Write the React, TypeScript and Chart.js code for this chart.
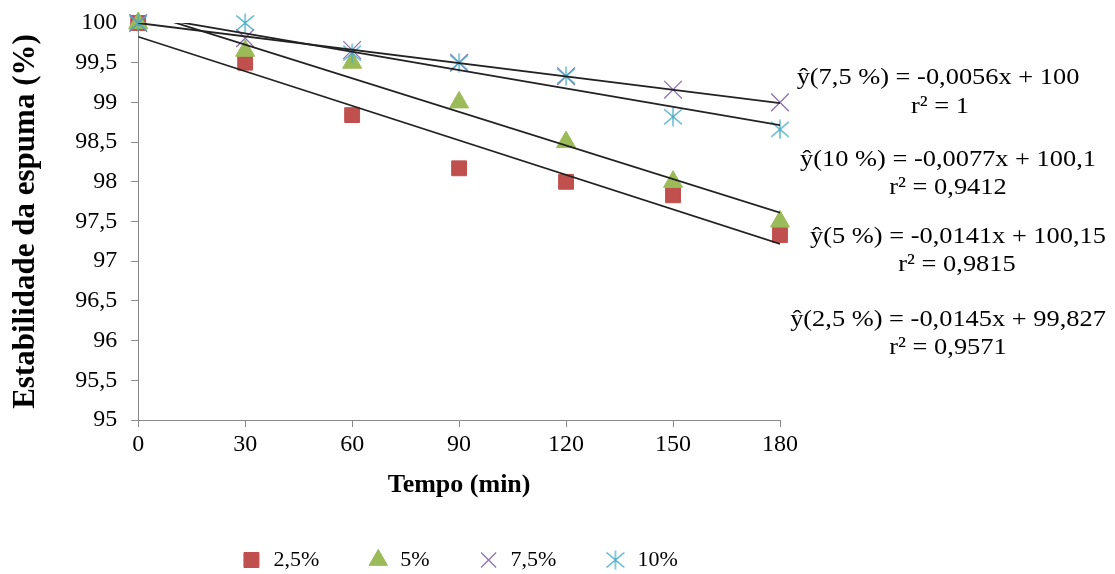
import React, { useEffect, useRef } from 'react';
import { Chart, registerables } from 'chart.js';

Chart.register(...registerables);

// ---------- data ----------
const times = [0, 30, 60, 90, 120, 150, 180];
const series25 = [100, 99.5, 98.84, 98.17, 98.0, 97.83, 97.33];
const series5 = [100, 99.65, 99.5, 99.0, 98.5, 98.0, 97.5];
const series75 = [100, 99.81, 99.66, 99.5, 99.33, 99.16, 99.0];
const series10 = [100, 100, 99.62, 99.5, 99.33, 98.82, 98.66];
const seriesLabels = ['2,5%', '5%', '7,5%', '10%'];

// regression equations shown on the chart (2,5 / 5 / 7,5 / 10 %)
const trendSlopes = [-0.0145, -0.0141, -0.0056, -0.0077];
const trendIntercepts = [99.827, 100.15, 100, 100.1];

const equationTexts = [
  'ŷ(7,5 %) = -0,0056x + 100',
  'r² = 1',
  'ŷ(10 %) = -0,0077x + 100,1',
  'r² = 0,9412',
  'ŷ(5 %) = -0,0141x + 100,15',
  'r² = 0,9815',
  'ŷ(2,5 %) = -0,0145x + 99,827',
  'r² = 0,9571',
];

const xTitle = 'Tempo (min)';
const yTitle = 'Estabilidade da espuma (%)';

// ---------- styling ----------
const FONT = "'Liberation Serif', 'Times New Roman', serif";
const AXIS_COLOR = '#898989';
const COLORS = ['#C0504D', '#9BBB59', '#8C73B0', '#4BACC6'];
const EQ_POS: [number, number][] = [
  [938, 78], [940, 107],
  [948, 160], [948, 188],
  [958, 237], [957, 265],
  [948, 320], [948, 348],
];

function makeAsterisk(color: string, size: number, lw: number) {
  const c = document.createElement('canvas');
  c.width = size;
  c.height = size;
  const ctx = c.getContext('2d')!;
  ctx.strokeStyle = color;
  ctx.lineWidth = lw;
  const m = size / 2;
  const r = size / 2 - 0.5;
  ctx.beginPath();
  ctx.moveTo(m, m - r);
  ctx.lineTo(m, m + r);
  const dx = r * 0.93;
  const dy = r * 0.8;
  ctx.moveTo(m - dx, m - dy);
  ctx.lineTo(m + dx, m + dy);
  ctx.moveTo(m + dx, m - dy);
  ctx.lineTo(m - dx, m + dy);
  ctx.stroke();
  return c;
}

const equationPlugin = {
  id: 'equationTexts',
  afterDraw(chart: any) {
    const ctx = chart.ctx;
    ctx.save();
    ctx.font = `24px ${FONT}`;
    ctx.fillStyle = '#000';
    ctx.textAlign = 'center';
    ctx.textBaseline = 'middle';
    equationTexts.forEach((t, i) => {
      const [x, y] = EQ_POS[i];
      ctx.save();
      ctx.translate(x, y);
      ctx.scale(1.1, 1);
      ctx.fillText(t, 0, 0);
      ctx.restore();
    });
    ctx.restore();
  },
};

export default function App() {
  const canvasRef = useRef<HTMLCanvasElement | null>(null);

  useEffect(() => {
    let chart: Chart | null = null;
    let cancelled = false;
    const fonts: any = (document as any).fonts;
    const ready: Promise<any> = fonts
      ? Promise.all([
          fonts.load('22px "Liberation Serif"'),
          fonts.load('bold 22px "Liberation Serif"'),
        ]).catch(() => null)
      : Promise.resolve(null);

    ready.then(() => {
      if (cancelled || !canvasRef.current) return;
      const asterisk = makeAsterisk(COLORS[3], 20, 1.3);
      const allSeries = [series25, series5, series75, series10];
      const styles: any[] = ['rect', 'triangle', 'crossRot', asterisk];
      const radii = [10.5, 11, 12.5, 10];

      const scatterSets = allSeries.map((s, i) => ({
        type: 'scatter' as const,
        label: seriesLabels[i],
        data: times.map((t, j) => ({ x: t, y: s[j] })),
        pointStyle: styles[i],
        pointRadius: radii[i],
        pointHoverRadius: radii[i],
        backgroundColor: COLORS[i],
        borderColor: COLORS[i],
        borderWidth: i >= 2 ? 1.3 : 1,
        showLine: false,
        clip: false as any,
        order: 4 - i,
      }));

      const trendSets = trendSlopes.map((m, i) => ({
        type: 'line' as const,
        label: 'trend ' + seriesLabels[i],
        data: [times[0], times[times.length - 1]].map((t) => ({ x: t, y: trendIntercepts[i] + m * t })),
        borderColor: '#222222',
        borderWidth: 1.8,
        pointRadius: 0,
        fill: false,
        order: 0,
      }));

      chart = new Chart(canvasRef.current, {
        type: 'scatter',
        data: { datasets: [...scatterSets, ...trendSets] as any },
        plugins: [equationPlugin],
        options: {
          animation: false,
          responsive: true,
          maintainAspectRatio: false,
          layout: { padding: { left: 0, right: 335, top: 23, bottom: 0 } },
          plugins: {
            tooltip: { enabled: false },
            legend: {
              position: 'bottom',
              fullSize: false,
              labels: {
                usePointStyle: true,
                boxHeight: 15,
                padding: 48,
                color: '#000',
                font: { family: FONT, size: 22 },
                filter: (item: any) => item.datasetIndex < 4,
                sort: (a: any, b: any) => a.datasetIndex - b.datasetIndex,
              },
            },
          },
          scales: {
            x: {
              type: 'linear',
              min: 0,
              max: 180,
              ticks: {
                stepSize: 30,
                color: '#000',
                padding: 3,
                font: { family: FONT, size: 24 },
              },
              grid: { drawOnChartArea: false, drawTicks: true, tickLength: 7, color: AXIS_COLOR },
              border: { display: true, color: AXIS_COLOR, width: 1 },
              title: {
                display: true,
                text: xTitle,
                color: '#000',
                font: { family: FONT, size: 26, weight: 'bold' },
                padding: { top: 8, bottom: 0 },
              },
            },
            y: {
              type: 'linear',
              min: 95,
              max: 100,
              ticks: {
                stepSize: 0.5,
                color: '#000',
                padding: 14,
                font: { family: FONT, size: 24, lineHeight: 0.6 },
                callback: (v: any) => String(v).replace('.', ','),
              },
              grid: { drawOnChartArea: false, drawTicks: true, tickLength: 7, color: AXIS_COLOR },
              border: { display: true, color: AXIS_COLOR, width: 1 },
              title: {
                display: true,
                text: yTitle,
                color: '#000',
                font: { family: FONT, size: 31, weight: 'bold' },
                padding: { top: 7, bottom: 17 },
              },
            },
          },
        } as any,
      });
    });
    return () => {
      cancelled = true;
      if (chart) chart.destroy();
    };
  }, []);

  return (
    <div style={{ position: 'fixed', left: 0, top: 0, width: 1115, height: 581, background: '#fff' }}>
      <canvas ref={canvasRef} />
    </div>
  );
}
